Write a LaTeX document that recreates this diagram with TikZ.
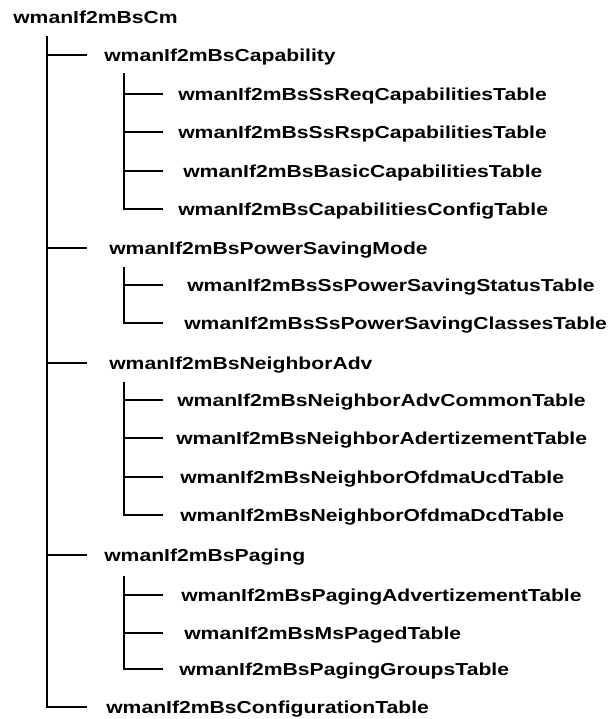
\documentclass[tikz,border=0pt]{standalone}
\usepackage{fontspec}
\setmainfont{Liberation Sans}[FakeStretch=1.22]
\begin{document}
\begin{tikzpicture}[x=0.75pt,y=-0.75pt,
  leaf/.style={anchor=west,inner sep=0pt,font=\bfseries\fontsize{13}{15}\selectfont,text height=9.5pt,text depth=0.3pt},
  tree/.style={line width=1.5pt}]
\useasboundingbox (0,0) rectangle (613,719);
% top level
\node[leaf] (cm) at (13,17) {wmanIf2mBsCm};
\node[leaf] (cap) at (104,55) {wmanIf2mBsCapability};
\node[leaf] (psm) at (109,248) {wmanIf2mBsPowerSavingMode};
\node[leaf] (nbr) at (109,363) {wmanIf2mBsNeighborAdv};
\node[leaf] (pag) at (104,555) {wmanIf2mBsPaging};
\node[leaf] (cfg) at (106,707) {wmanIf2mBsConfigurationTable};
% capability tables
\node[leaf] (ssreq) at (178,94) {wmanIf2mBsSsReqCapabilitiesTable};
\node[leaf] (ssrsp) at (178,132) {wmanIf2mBsSsRspCapabilitiesTable};
\node[leaf] (basic) at (183,171) {wmanIf2mBsBasicCapabilitiesTable};
\node[leaf] (capcfg) at (178,209) {wmanIf2mBsCapabilitiesConfigTable};
% power saving tables
\node[leaf] (psstat) at (187,285) {wmanIf2mBsSsPowerSavingStatusTable};
\node[leaf] (psclass) at (184,323) {wmanIf2mBsSsPowerSavingClassesTable};
% neighbor tables
\node[leaf] (common) at (177,400) {wmanIf2mBsNeighborAdvCommonTable};
\node[leaf] (adert) at (176,438) {wmanIf2mBsNeighborAdertizementTable};
\node[leaf] (ucd) at (180,477) {wmanIf2mBsNeighborOfdmaUcdTable};
\node[leaf] (dcd) at (180,515) {wmanIf2mBsNeighborOfdmaDcdTable};
% paging tables
\node[leaf] (pagadv) at (181,595) {wmanIf2mBsPagingAdvertizementTable};
\node[leaf] (mspaged) at (184,633) {wmanIf2mBsMsPagedTable};
\node[leaf] (groups) at (179,669) {wmanIf2mBsPagingGroupsTable};
% tree lines
\coordinate (trunk) at (47,36);
\coordinate (stub) at (87,0);
\coordinate (captrunk) at (124,73);
\coordinate (psmtrunk) at (124,267);
\coordinate (nbrtrunk) at (124,382);
\coordinate (pagtrunk) at (124,576);
\coordinate (substub) at (163,0);
\draw[tree] (trunk) |- (stub |- cfg.west);
\foreach \n in {cap,psm,nbr,pag}
  \draw[tree] (trunk |- \n.west) -- (stub |- \n.west);
\draw[tree] (captrunk) |- (substub |- capcfg.west);
\draw[tree] (psmtrunk) |- (substub |- psclass.west);
\draw[tree] (nbrtrunk) |- (substub |- dcd.west);
\draw[tree] (pagtrunk) |- (substub |- groups.west);
\foreach \n in {ssreq,ssrsp,basic,psstat,common,adert,ucd,pagadv,mspaged}
  \draw[tree] (captrunk |- \n.west) -- (substub |- \n.west);
\end{tikzpicture}
\end{document}
